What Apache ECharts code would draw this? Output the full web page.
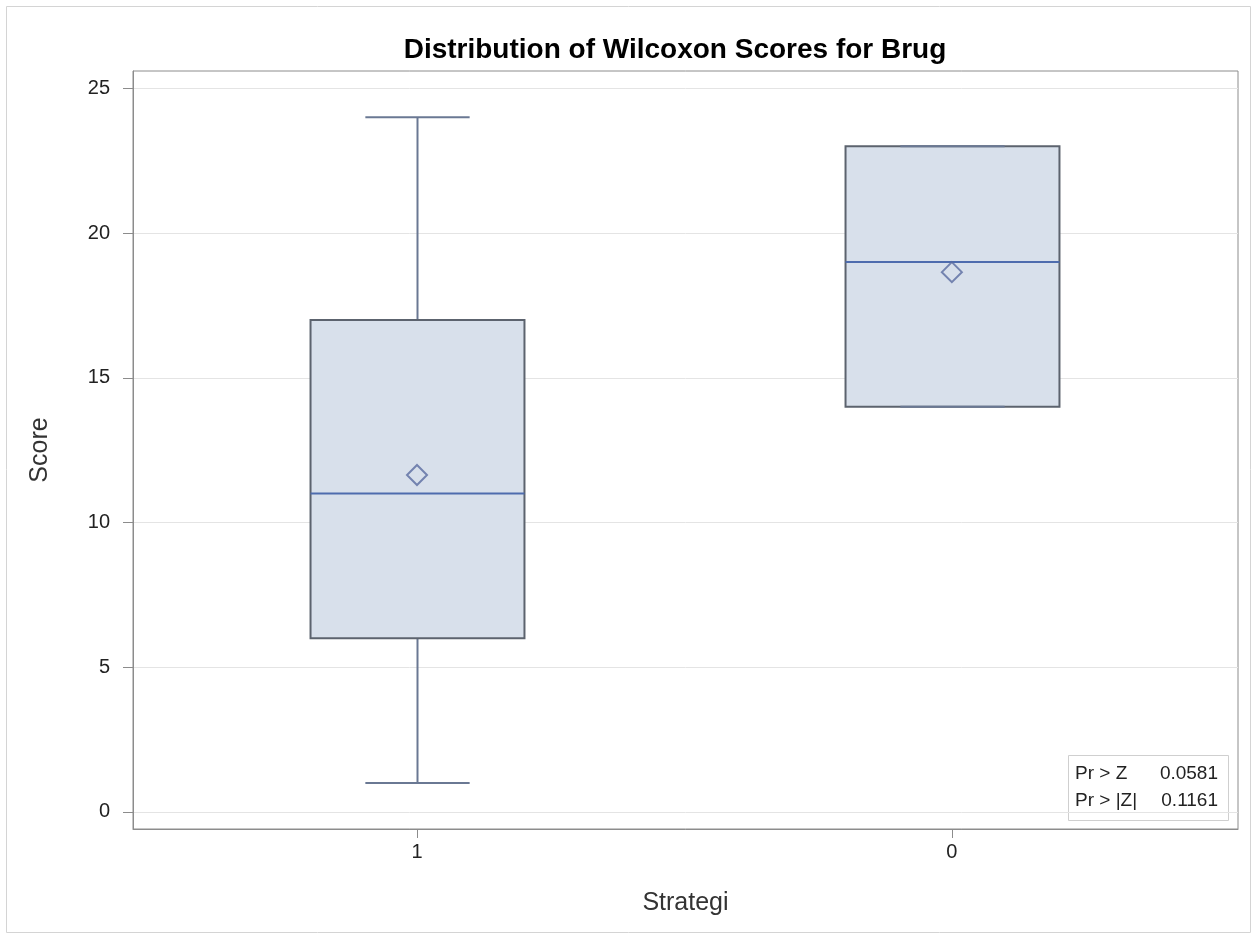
<!DOCTYPE html>
<html>
<head>
<meta charset="utf-8">
<script src="https://cdn.jsdelivr.net/npm/echarts@6/dist/echarts.min.js"></script>
<style>
html,body{margin:0;padding:0;background:#fff;}
#chart{width:1258px;height:941px;}
</style>
</head>
<body>
<div id="chart"></div>
<script>
// ---- data ----
var categories = ['1', '0'];
var whiskerLow = [1, 14];
var q1Values = [6, 14];
var medianValues = [11, 19];
var q3Values = [17, 23];
var whiskerHigh = [24, 23];
var meanValues = [11.64, 18.65];
var yTicks = [0, 5, 10, 15, 20, 25];
var statLabels = ['Pr > Z', 'Pr > |Z|'];
var statValues = ['0.0581', '0.1161'];

var boxData = categories.map(function (c, i) {
  return [i, whiskerLow[i], q1Values[i], medianValues[i], q3Values[i], whiskerHigh[i]];
});
var meanData = categories.map(function (c, i) { return [i, meanValues[i]]; });

var FONT = '"Liberation Sans", Arial, sans-serif';
var chart = echarts.init(document.getElementById('chart'));

function renderBox(params, api) {
  var x = api.value(0);
  var pMin = api.coord([x, api.value(1)]);
  var pQ1 = api.coord([x, api.value(2)]);
  var pMed = api.coord([x, api.value(3)]);
  var pQ3 = api.coord([x, api.value(4)]);
  var pMax = api.coord([x, api.value(5)]);
  var bw = api.size([0.4, 0])[0];
  var cw = api.size([0.195, 0])[0];
  var cx = Math.round(pMed[0]) + 0.5;
  var whiskerStyle = { stroke: '#6a7893', lineWidth: 2 };
  var children = [];
  if (pMin[1] !== pQ1[1]) {
    children.push({ type: 'line', shape: { x1: cx, y1: pMin[1], x2: cx, y2: pQ1[1] }, style: whiskerStyle });
  }
  if (pMax[1] !== pQ3[1]) {
    children.push({ type: 'line', shape: { x1: cx, y1: pMax[1], x2: cx, y2: pQ3[1] }, style: whiskerStyle });
  }
  children.push({
    type: 'rect',
    shape: { x: cx - bw / 2, y: pQ3[1], width: bw, height: pQ1[1] - pQ3[1] },
    style: { fill: '#d8e0eb', stroke: '#5c636e', lineWidth: 2 }
  });
  children.push({ type: 'line', shape: { x1: cx - cw / 2, y1: pMin[1], x2: cx + cw / 2, y2: pMin[1] }, style: whiskerStyle });
  children.push({ type: 'line', shape: { x1: cx - cw / 2, y1: pMax[1], x2: cx + cw / 2, y2: pMax[1] }, style: whiskerStyle });
  children.push({
    type: 'line',
    shape: { x1: cx - bw / 2, y1: pMed[1], x2: cx + bw / 2, y2: pMed[1] },
    style: { stroke: '#4e6cae', lineWidth: 2 }
  });
  return { type: 'group', children: children };
}

var option = {
  backgroundColor: '#ffffff',
  animation: false,
  title: {
    text: 'Distribution of Wilcoxon Scores for Brug',
    left: 670,
    textAlign: 'center',
    top: 31,
    textStyle: { fontFamily: FONT, fontWeight: 'bold', fontSize: 28, color: '#000' }
  },
  grid: {
    left: 133, top: 71, right: 20, bottom: 112,
    show: true, borderColor: '#8c8c8c', borderWidth: 1, backgroundColor: 'transparent'
  },
  xAxis: {
    type: 'value',
    min: -0.531, max: 1.535,
    name: 'Strategi',
    nameLocation: 'middle',
    nameGap: 62,
    nameTextStyle: { fontFamily: FONT, fontSize: 25, color: '#333' },
    axisLine: { show: true, onZero: false, lineStyle: { color: '#8c8c8c', width: 1 } },
    axisTick: { show: true, length: 9, customValues: [0, 1], lineStyle: { color: '#8c8c8c' } },
    axisLabel: {
      customValues: [0, 1], margin: 13,
      fontFamily: FONT, fontSize: 20, color: '#222',
      formatter: function (v) { return categories[Math.round(v)]; }
    },
    splitLine: { show: false }
  },
  yAxis: {
    type: 'value',
    min: -0.59, max: 25.6,
    name: 'Score',
    nameLocation: 'middle',
    nameGap: 80,
    nameRotate: 90,
    nameTextStyle: { fontFamily: FONT, fontSize: 25, color: '#333' },
    axisLine: { show: true, onZero: false, lineStyle: { color: '#8c8c8c', width: 1 } },
    axisTick: { show: true, length: 10, customValues: yTicks, lineStyle: { color: '#8c8c8c' } },
    axisLabel: {
      customValues: yTicks, margin: 23,
      fontFamily: FONT, fontSize: 20, color: '#222'
    },
    splitLine: { show: true, lineStyle: { color: '#e4e4e4', width: 1 } }
  },
  series: [
    {
      type: 'custom',
      renderItem: renderBox,
      encode: { x: 0, y: [1, 2, 3, 4, 5] },
      data: boxData,
      z: 2
    },
    {
      type: 'scatter',
      data: meanData,
      symbol: 'diamond',
      symbolSize: 20,
      itemStyle: { color: 'rgba(0,0,0,0)', borderColor: '#5a6ba0', borderWidth: 2 },
      z: 3
    }
  ],
  graphic: [
    {
      type: 'rect', silent: true, z: -10,
      shape: { x: 6.5, y: 6.5, width: 1244, height: 926 },
      style: { fill: 'none', stroke: '#d4d4d4', lineWidth: 1 }
    },
    {
      type: 'group', left: 1068, top: 755, z: 10,
      children: [
        { type: 'rect', shape: { x: 0.5, y: 0.5, width: 160, height: 65 }, style: { fill: '#fff', stroke: '#cfcfcf', lineWidth: 1 } },
        { type: 'text', x: 7, y: 19, style: { text: statLabels[0], fontFamily: FONT, fontSize: 19, fill: '#222', verticalAlign: 'middle' } },
        { type: 'text', x: 7, y: 46, style: { text: statLabels[1], fontFamily: FONT, fontSize: 19, fill: '#222', verticalAlign: 'middle' } },
        { type: 'text', x: 150, y: 19, style: { text: statValues[0], fontFamily: FONT, fontSize: 19, fill: '#222', align: 'right', verticalAlign: 'middle' } },
        { type: 'text', x: 150, y: 46, style: { text: statValues[1], fontFamily: FONT, fontSize: 19, fill: '#222', align: 'right', verticalAlign: 'middle' } }
      ]
    }
  ]
};
chart.setOption(option);
</script>
</body>
</html>
